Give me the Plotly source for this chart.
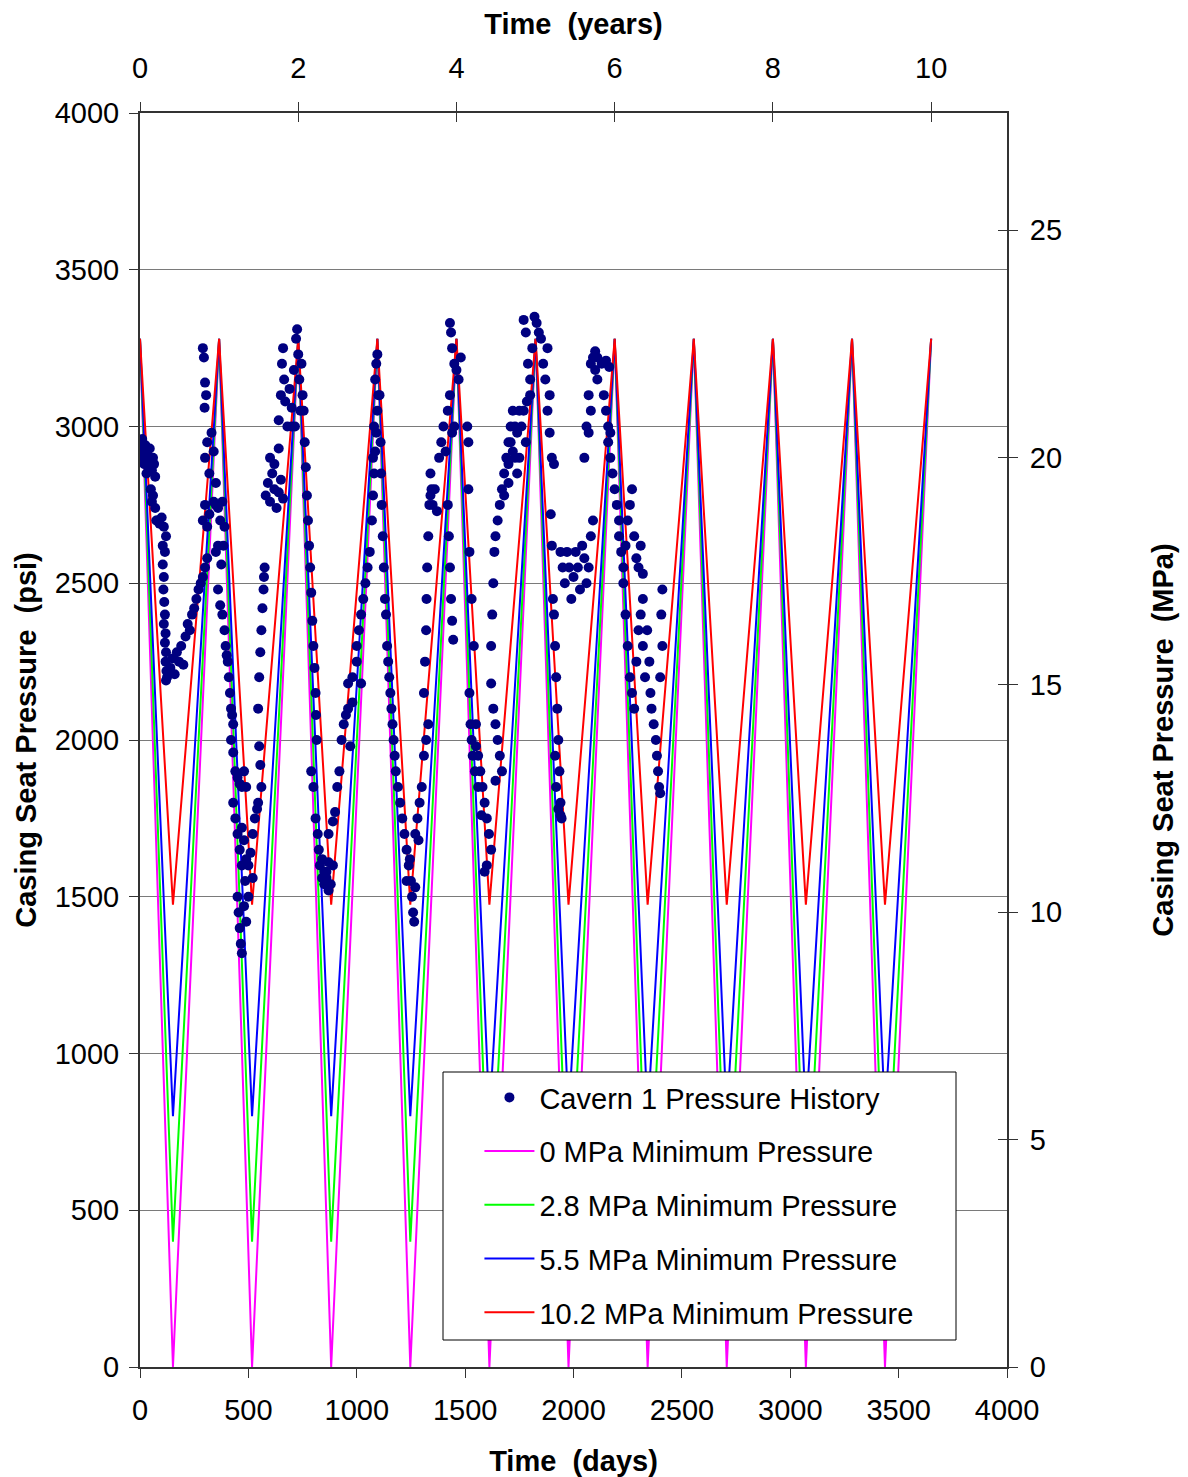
import plotly.graph_objects as go

# ---------------- data ----------------
PSI_PER_MPA = 145.0377
DAYS_PER_YEAR = 365.0
X_MAX_DAYS = 4000
Y_MAX_PSI = 4000

# Cavern 1 pressure history, (day, psi), cycle by cycle
hist_cycle1 = [
    (0, 2950), (5, 2920), (10, 2960), (15, 2900), (20, 2880), (25, 2940), (30, 2850), (35, 2910),
    (40, 2870), (45, 2930), (50, 2890), (55, 2860), (60, 2900), (65, 2880), (70, 2840),
    (50, 2800), (55, 2760), (60, 2780), (70, 2740), (75, 2700),
    (80, 2700), (90, 2690), (100, 2710), (110, 2680), (120, 2650), (105, 2620), (115, 2600),
    (105, 2560), (110, 2520), (108, 2480), (112, 2440), (115, 2400), (110, 2370), (118, 2340),
    (115, 2310), (120, 2280), (118, 2250), (122, 2220), (125, 2200), (120, 2190),
    (140, 2230), (150, 2260), (160, 2210), (170, 2280), (180, 2250), (190, 2300), (200, 2240),
    (210, 2330), (220, 2370), (230, 2350), (240, 2400),
    (250, 2420), (260, 2450), (270, 2480), (280, 2500), (290, 2520), (300, 2550), (310, 2580),
    (290, 2700), (300, 2750), (310, 2680), (320, 2720),
    (300, 2900), (310, 2950), (320, 2850), (330, 2980), (340, 2920), (350, 2820),
    (290, 3250), (295, 3220), (300, 3140), (298, 3060), (305, 3100),
]
hist_cycle2 = [
    (340, 2760), (350, 2750), (360, 2740), (370, 2700), (380, 2760), (390, 2680),
    (350, 2600), (360, 2620), (375, 2560), (385, 2620), (360, 2480),
    (370, 2430), (380, 2400), (390, 2350), (395, 2300), (400, 2270), (405, 2250),
    (410, 2200), (415, 2150), (420, 2100), (425, 2080), (430, 2050),
    (420, 2000), (430, 1960), (440, 1900), (450, 1880), (460, 1860), (470, 1850), (480, 1900), (490, 1850),
    (430, 1800), (440, 1750), (450, 1700), (460, 1650), (470, 1720), (480, 1680), (490, 1620),
    (500, 1600), (510, 1640), (520, 1560), (470, 1600), (485, 1550),
    (450, 1500), (455, 1450), (460, 1400), (465, 1350), (470, 1320), (480, 1470), (500, 1500), (490, 1420),
    (520, 1700), (530, 1750), (540, 1780), (545, 1800), (550, 1980), (555, 1920), (560, 1850),
    (545, 2100), (550, 2200), (555, 2280), (560, 2350), (565, 2420), (570, 2480), (572, 2520), (575, 2550),
    (580, 2780), (590, 2820), (600, 2760), (610, 2850), (620, 2800), (630, 2740), (640, 2790),
    (650, 2830), (660, 2770), (600, 2900), (620, 2880), (640, 2930),
    (640, 3020), (650, 3100), (655, 3200), (660, 3250), (665, 3150), (670, 3080), (680, 3000),
    (690, 3120), (700, 3060), (710, 3180), (720, 3280), (725, 3310), (730, 3230), (735, 3150),
    (740, 3050), (715, 3000), (700, 3000), (745, 3200), (750, 3100),
]
hist_cycle3 = [
    (755, 3050), (760, 2950), (765, 2870), (770, 2780), (775, 2700), (780, 2620), (785, 2550),
    (790, 2470), (795, 2380), (800, 2300), (805, 2230), (810, 2150), (812, 2080), (815, 2000),
    (790, 1900), (800, 1850), (810, 1750), (820, 1700), (825, 1650), (830, 1600), (840, 1560),
    (850, 1540), (860, 1580), (870, 1520),
    (840, 1620), (850, 1580), (860, 1560), (870, 1610), (880, 1540), (890, 1600),
    (870, 1700), (890, 1740), (900, 1770),
    (910, 1850), (920, 1900), (930, 2000), (940, 2050), (950, 2080), (960, 2100), (970, 1980), (980, 2120),
    (960, 2180), (980, 2200), (1000, 2250), (1020, 2180),
    (1000, 2300), (1010, 2350), (1020, 2400), (1030, 2450), (1040, 2500), (1050, 2550), (1060, 2600),
    (1070, 2700), (1075, 2780), (1080, 2850), (1085, 2920), (1090, 2980), (1095, 3050), (1100, 3100),
    (1085, 3150), (1090, 3200), (1095, 3230), (1080, 3000), (1075, 2900),
]
hist_cycle4 = [
    (1105, 3100), (1110, 2950), (1112, 2850), (1115, 2750), (1120, 2650), (1125, 2550), (1130, 2450),
    (1135, 2400), (1140, 2300), (1145, 2250), (1150, 2200), (1155, 2150), (1160, 2100), (1165, 2050),
    (1170, 2000),
    (1175, 1950), (1180, 1900), (1190, 1850), (1200, 1800), (1210, 1750), (1220, 1700), (1230, 1650),
    (1240, 1600), (1250, 1550), (1255, 1500), (1260, 1450), (1265, 1420), (1230, 1550), (1245, 1620),
    (1270, 1530),
    (1270, 1700), (1280, 1750), (1290, 1800), (1300, 1850), (1310, 1950), (1320, 2000), (1330, 2050),
    (1285, 1680),
    (1310, 2150), (1315, 2250), (1320, 2350), (1322, 2450), (1325, 2550), (1330, 2650), (1335, 2750),
    (1340, 2850), (1345, 2800),
    (1340, 2780), (1350, 2750), (1360, 2800), (1370, 2730),
    (1380, 2900), (1390, 2950), (1400, 3000), (1410, 2920), (1420, 3050), (1430, 3100), (1440, 2980), (1450, 3000),
    (1430, 3330), (1435, 3300), (1440, 3250), (1450, 3200), (1460, 3180), (1470, 3150), (1480, 3220),
    (1420, 2750), (1425, 2650), (1430, 2550), (1435, 2450), (1440, 2380), (1445, 2320),
]
hist_cycle5 = [
    (1510, 3000), (1515, 2950),
    (1515, 2800), (1520, 2600), (1530, 2450), (1540, 2300),
    (1520, 2150), (1525, 2050), (1530, 2000), (1535, 1950), (1545, 1900), (1550, 2050),
    (1550, 1980), (1560, 1950), (1570, 1900), (1580, 1850), (1590, 1800), (1600, 1750), (1610, 1700),
    (1620, 1650), (1600, 1600), (1590, 1580), (1575, 1760), (1560, 1850),
    (1620, 2180), (1630, 2100), (1640, 2050), (1650, 2000), (1660, 1950), (1670, 1900), (1640, 1870),
    (1620, 2300), (1625, 2400), (1630, 2500), (1635, 2600), (1640, 2650),
    (1650, 2700), (1660, 2750), (1670, 2800), (1680, 2850), (1690, 2900), (1700, 2950), (1710, 3000),
    (1720, 3050), (1730, 2900), (1740, 2980), (1750, 3050), (1680, 2780), (1700, 2820),
    (1700, 2880), (1710, 2950), (1720, 2920), (1730, 3000), (1740, 2850), (1750, 2900), (1760, 3000),
    (1770, 3050), (1780, 2950),
    (1770, 3340), (1780, 3300), (1790, 3200), (1800, 3150), (1810, 3250), (1820, 3350), (1830, 3330),
    (1840, 3300), (1850, 3280), (1860, 3200), (1870, 3150), (1880, 3250), (1890, 3100), (1800, 3100),
    (1785, 3080),
]
hist_cycle6 = [
    (1880, 3050), (1890, 2980), (1900, 2900), (1910, 2880),
    (1895, 2720), (1900, 2620),
    (1905, 2450), (1910, 2400), (1915, 2300), (1920, 2200), (1925, 2100), (1930, 2000), (1935, 1900),
    (1940, 1800), (1945, 1750),
    (1915, 1950), (1920, 1850), (1930, 1780), (1940, 1760),
    (1940, 2600), (1950, 2550), (1960, 2500), (1970, 2600), (1980, 2550), (1990, 2450), (2000, 2520),
    (2010, 2600), (2020, 2550), (2030, 2480), (2040, 2620), (2050, 2580), (2060, 2500), (2070, 2550),
    (2080, 2650), (2090, 2700),
    (2050, 2900), (2060, 3000), (2070, 3100), (2080, 3200), (2090, 3220), (2100, 3180), (2110, 3150),
    (2080, 3050), (2070, 2980),
    (2100, 3240), (2110, 3220), (2130, 3200), (2150, 3210), (2165, 3190),
]
hist_cycle7 = [
    (2140, 3100), (2150, 3050), (2160, 3000), (2170, 2980),
    (2160, 2950), (2170, 2900), (2180, 2850), (2190, 2800), (2200, 2750), (2210, 2700),
    (2210, 2650), (2220, 2600), (2230, 2550), (2240, 2620), (2250, 2700), (2260, 2750), (2270, 2800),
    (2280, 2650), (2290, 2580), (2300, 2550), (2310, 2620), (2320, 2530),
    (2230, 2500), (2240, 2400), (2250, 2300), (2260, 2200), (2270, 2150), (2280, 2100), (2290, 2250),
    (2300, 2350), (2310, 2400), (2320, 2300), (2330, 2200),
    (2320, 2450), (2340, 2350), (2350, 2250), (2355, 2150), (2360, 2100), (2370, 2050), (2380, 2000),
    (2385, 1950), (2390, 1900), (2395, 1850), (2400, 1830), (2410, 2300), (2405, 2400), (2400, 2200),
    (2410, 2480),
]

# Design cycles: vertex days and pressures (psi)
cycle_days = [0, 152, 365, 517, 730, 882, 1095, 1247, 1460, 1612, 1825,
              1977, 2190, 2342, 2555, 2707, 2920, 3072, 3285, 3437, 3650]
psi_min_0_0 = [3280, 0, 3280, 0, 3280, 0, 3280, 0, 3280, 0, 3280,
               0, 3280, 0, 3280, 0, 3280, 0, 3280, 0, 3280]
psi_min_2_8 = [3280, 400, 3280, 400, 3280, 400, 3280, 400, 3280, 400, 3280,
               400, 3280, 400, 3280, 400, 3280, 400, 3280, 400, 3280]
psi_min_5_5 = [3280, 800, 3280, 800, 3280, 800, 3280, 800, 3280, 800, 3280,
               800, 3280, 800, 3280, 800, 3280, 800, 3280, 800, 3280]
psi_min_10_2 = [3280, 1475, 3280, 1475, 3280, 1475, 3280, 1475, 3280, 1475, 3280,
                1475, 3280, 1475, 3280, 1475, 3280, 1475, 3280, 1475, 3280]

line_names = ["0 MPa Minimum Pressure", "2.8 MPa Minimum Pressure",
              "5.5 MPa Minimum Pressure", "10.2 MPa Minimum Pressure"]
line_values = [psi_min_0_0, psi_min_2_8, psi_min_5_5, psi_min_10_2]
line_colors = ["#FF00FF", "#00FF00", "#0000FF", "#FF0000"]

x_ticks_days = [0, 500, 1000, 1500, 2000, 2500, 3000, 3500, 4000]
y_ticks_psi = [0, 500, 1000, 1500, 2000, 2500, 3000, 3500, 4000]
x_ticks_years = [0, 2, 4, 6, 8, 10]
y_ticks_mpa = [0, 5, 10, 15, 20, 25]

# ---------------- figure ----------------
FONT = "Liberation Sans, Arial, Helvetica, sans-serif"
AX_COLOR = "#333333"
TICK_SIZE = 29

history = hist_cycle1 + hist_cycle2 + hist_cycle3 + hist_cycle4 + hist_cycle5 + hist_cycle6 + hist_cycle7
hist_days = [p[0] for p in history]
hist_psi = [p[1] for p in history]

fig = go.Figure()

for i, (name, vals, col) in enumerate(zip(line_names, line_values, line_colors)):
    fig.add_trace(go.Scatter(
        x=cycle_days, y=vals, mode="lines", name=name,
        line=dict(color=col, width=2),
        legendgroup=f"g{i+1}", legendrank=i + 2,
        xaxis="x", yaxis="y",
    ))

fig.add_trace(go.Scatter(
    x=hist_days, y=hist_psi, mode="markers", name="Cavern 1 Pressure History",
    marker=dict(color="#000080", size=10, line=dict(width=0)),
    legendgroup="g0", legendrank=1,
    xaxis="x", yaxis="y",
))

# helper traces so secondary axes (years / MPa) are rendered
fig.add_trace(go.Scatter(x=[], y=[], xaxis="x2", yaxis="y2", showlegend=False, hoverinfo="skip"))
fig.add_trace(go.Scatter(x=[], y=[], xaxis="x3", yaxis="y3", showlegend=False, hoverinfo="skip"))

tickfont = dict(family=FONT, size=TICK_SIZE, color="black")
titlefont = dict(family=FONT, size=29, color="black")

# the page body adds an 8 px margin, so the figure is 8 px smaller and margins shifted
fig.update_layout(
    width=1180, height=1469,
    margin=dict(l=132, r=181, t=105, b=110, autoexpand=False),
    paper_bgcolor="white", plot_bgcolor="white",
    font=dict(family=FONT, color="black"),
    showlegend=True,
    legend=dict(
        x=0.3915, y=0.2352, xanchor="left", yanchor="top",
        bgcolor="rgba(0,0,0,0)", borderwidth=0,
        font=dict(family=FONT, size=29, color="black"),
        tracegroupgap=13, itemwidth=50, traceorder="grouped",
        itemsizing="trace",
    ),
    xaxis=dict(
        range=[0, X_MAX_DAYS], tickvals=x_ticks_days, ticks="outside", ticklen=9,
        tickcolor=AX_COLOR, tickwidth=1, showline=True, linecolor=AX_COLOR, linewidth=2,
        showgrid=False, zeroline=False, tickfont=tickfont, ticklabelstandoff=7,
        title=dict(text="<b>Time \u00a0(days)</b>", font=titlefont, standoff=28),
        automargin=False,
    ),
    yaxis=dict(
        range=[0, Y_MAX_PSI], tickvals=y_ticks_psi, ticks="outside", ticklen=9,
        tickcolor=AX_COLOR, tickwidth=1, showline=True, linecolor=AX_COLOR, linewidth=2,
        showgrid=True, gridcolor="#7a7a7a", gridwidth=1, zeroline=False,
        tickfont=tickfont, ticklabelstandoff=4,
        title=dict(text="<b>Casing Seat Pressure \u00a0(psi)</b>", font=titlefont, standoff=10),
        automargin=False,
    ),
    xaxis2=dict(
        range=[0, X_MAX_DAYS / DAYS_PER_YEAR], tickvals=x_ticks_years, overlaying="x", side="top",
        anchor="y2", ticks="outside", ticklen=9, tickcolor=AX_COLOR, tickwidth=1,
        showline=True, linecolor=AX_COLOR, linewidth=2, showgrid=False, zeroline=False,
        tickfont=tickfont, ticklabelstandoff=12,
        title=dict(text="<b>Time \u00a0(years)</b>", font=titlefont, standoff=18),
        automargin=False,
    ),
    yaxis2=dict(
        range=[0, Y_MAX_PSI / PSI_PER_MPA], tickvals=y_ticks_mpa, overlaying="y", side="right",
        anchor="x2", ticks="outside", ticklen=9, tickcolor=AX_COLOR, tickwidth=1,
        showline=True, linecolor=AX_COLOR, linewidth=2, showgrid=False, zeroline=False,
        tickfont=tickfont, ticklabelstandoff=6,
        title=dict(text="<b>Casing Seat Pressure \u00a0(MPa)</b>", font=titlefont, standoff=92),
        automargin=False,
    ),
    # inward halves of the crossing ticks on top and right
    xaxis3=dict(
        range=[0, X_MAX_DAYS / DAYS_PER_YEAR], tickvals=x_ticks_years, overlaying="x", side="top",
        anchor="y3", ticks="inside", ticklen=9, tickcolor=AX_COLOR, tickwidth=1,
        showticklabels=False, showline=False, showgrid=False, zeroline=False,
    ),
    yaxis3=dict(
        range=[0, Y_MAX_PSI / PSI_PER_MPA], tickvals=y_ticks_mpa, overlaying="y", side="right",
        anchor="x3", ticks="inside", ticklen=9, tickcolor=AX_COLOR, tickwidth=1,
        showticklabels=False, showline=False, showgrid=False, zeroline=False,
    ),
    shapes=[dict(
        type="rect", xref="paper", yref="paper", layer="above",
        x0=(443 - 140) / 867, x1=(956 - 140) / 867,
        y0=(1367 - 1340) / 1254, y1=(1367 - 1072) / 1254,
        fillcolor="white", line=dict(color="black", width=1),
    )],
)

fig.write_html("out.html")
